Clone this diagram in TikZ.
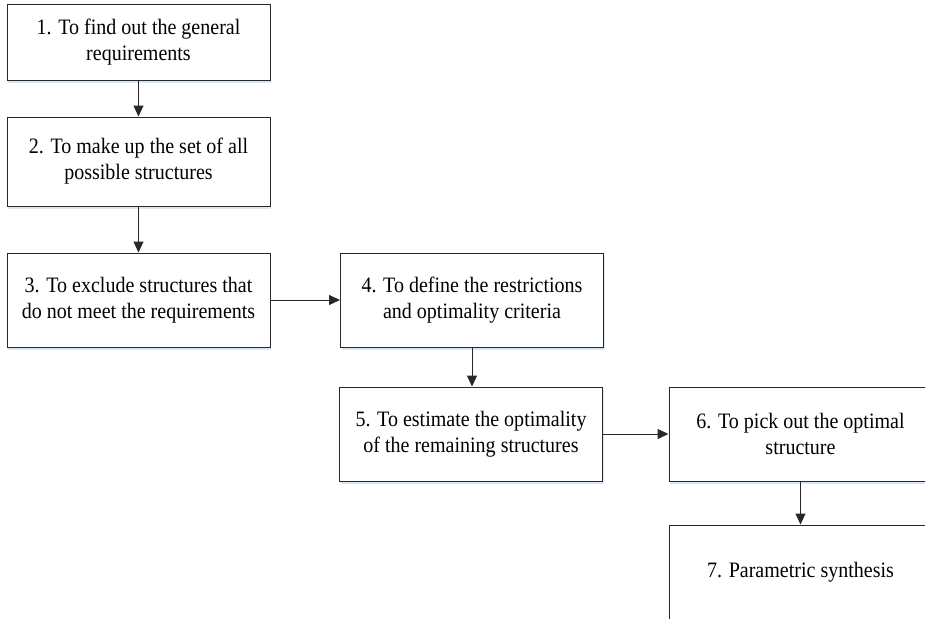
\documentclass[tikz,border=0pt]{standalone}
\usepackage{fontspec}
\setmainfont{Liberation Serif}
\newfontfamily\boxfont[FakeStretch=0.91]{Liberation Serif}
\usetikzlibrary{arrows.meta,shadows}
\definecolor{shadowblue}{RGB}{216,230,246}
\definecolor{linegray}{RGB}{40,40,40}
\tikzset{
  stepbox/.style={draw=linegray, line width=1pt, fill=white, rectangle,
    minimum width=263pt, minimum height=94pt, inner sep=0pt, align=center,
    font=\boxfont\fontsize{22}{26}\selectfont,
    drop shadow={shadow xshift=1pt, shadow yshift=-2.5pt, fill=shadowblue, opacity=1}},
  flow/.style={draw=linegray, line width=1pt, -{Triangle[length=11pt,width=10pt]}}
}
\begin{document}
\begin{tikzpicture}[x=1pt,y=-1pt]
\useasboundingbox (0,0) rectangle (925,618);
\clip (0,0) rectangle (925,618);
\fill[white] (0,0) rectangle (925,618);
\node[stepbox, minimum height=75pt] (n1) at (138.5,42.5) {1. To find out the general\\requirements};
\node[stepbox, minimum height=89pt] (n2) at (138.5,161.5) {2. To make up the set of all\\possible structures};
\node[stepbox] (n3) at (138.5,300) {3. To exclude structures that\\do not meet the requirements};
\node[stepbox] (n4) at (472,300) {4. To define the restrictions\\and optimality criteria};
\node[stepbox] (n5) at (471,434) {5. To estimate the optimality\\of the remaining structures};
\node[stepbox] (n6) at (800.5,434) {6. To pick out the optimal\\structure};
\node[stepbox] (n7) at (800.5,572) {7. Parametric synthesis};
\draw[flow] (n1) -- (n2);
\draw[flow] (n2) -- (n3);
\draw[flow] (n3) -- (n4);
\draw[flow] (n4) -- (n4 |- n5.north);
\draw[flow] (n5) -- (n6);
\draw[flow] (n6) -- (n7);
\end{tikzpicture}
\end{document}
